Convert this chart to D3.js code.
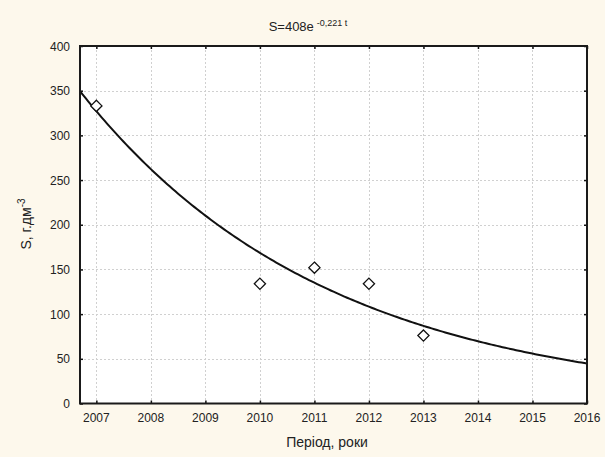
<!DOCTYPE html>
<html>
<head>
<meta charset="utf-8">
<script src="https://cdn.jsdelivr.net/npm/d3@7"></script>
<style>
  html, body { margin: 0; padding: 0; background: #fdf8ec; }
  svg { display: block; font-family: "Liberation Sans", Arial, sans-serif; }
</style>
</head>
<body>
<svg id="chart" width="605" height="457"></svg>
<script>
// Observed values
const years = [2007, 2010, 2011, 2012, 2013];
const sValues = [333, 134, 152, 134, 76];

// Fitted model S = a * exp(b * t), t = year - baseYear
const fitA = 408;
const fitB = -0.221;
const baseYear = 2006;

// Axis ticks
const xTicks = [2007, 2008, 2009, 2010, 2011, 2012, 2013, 2014, 2015, 2016];
const yTicks = [0, 50, 100, 150, 200, 250, 300, 350, 400];

const svg = d3.select("#chart");
const W = 605, H = 457;
const plot = { left: 80, right: 587, top: 46, bottom: 403.5 };

svg.append("rect").attr("width", W).attr("height", H).attr("fill", "#fdf8ec");

const x = d3.scaleLinear().domain([2006.7, 2016]).range([plot.left, plot.right]);
const y = d3.scaleLinear().domain([0, 400]).range([plot.bottom, plot.top]);

// plot background
svg.append("rect")
  .attr("x", plot.left).attr("y", plot.top)
  .attr("width", plot.right - plot.left).attr("height", plot.bottom - plot.top)
  .attr("fill", "#ffffff");

// grid
const grid = svg.append("g").attr("stroke", "#d0d0d0").attr("stroke-width", 1).attr("stroke-dasharray", "2,2");
grid.selectAll("line.v").data(xTicks.filter(d => d < 2016)).join("line")
  .attr("x1", d => Math.round(x(d)) + 0.5).attr("x2", d => Math.round(x(d)) + 0.5)
  .attr("y1", plot.top).attr("y2", plot.bottom);
grid.selectAll("line.h").data(yTicks.filter(d => d > 0 && d < 400)).join("line")
  .attr("y1", d => Math.round(y(d)) + 0.5).attr("y2", d => Math.round(y(d)) + 0.5)
  .attr("x1", plot.left).attr("x2", plot.right);

// fitted curve
const fitYears = d3.range(2006.7, 2016.0001, 0.05);
const line = d3.line().x(d => x(d)).y(d => y(fitA * Math.exp(fitB * (d - baseYear))));
svg.append("path")
  .datum(fitYears)
  .attr("d", line)
  .attr("fill", "none")
  .attr("stroke", "#111")
  .attr("stroke-width", 2);

// observation markers (diamonds)
const diamond = d3.symbol().type(d3.symbolDiamond2 || d3.symbolSquare2).size(80);
svg.append("g").selectAll("path").data(years.map((yr, i) => [yr, sValues[i]])).join("path")
  .attr("transform", d => `translate(${x(d[0])},${y(d[1])})` + (d3.symbolDiamond2 ? "" : " rotate(45)"))
  .attr("d", diamond)
  .attr("fill", "#ffffff")
  .attr("stroke", "#111")
  .attr("stroke-width", 1.3);

// axes: inward ticks on all four sides
const axBottom = d3.axisBottom(x).tickValues(xTicks).tickSize(-3).tickFormat("");
const axTop = d3.axisTop(x).tickValues(xTicks).tickSize(-3).tickFormat("");
const axLeft = d3.axisLeft(y).tickValues(yTicks).tickSize(-3).tickFormat("");
const axRight = d3.axisRight(y).tickValues(yTicks).tickSize(-3).tickFormat("");

function styleAxis(g) {
  g.select(".domain").remove();
  g.selectAll(".tick line").attr("stroke", "#111").attr("stroke-width", 1.5);
}
svg.append("g").attr("transform", `translate(0,${plot.bottom})`).call(axBottom).call(styleAxis);
svg.append("g").attr("transform", `translate(0,${plot.top})`).call(axTop).call(styleAxis);
svg.append("g").attr("transform", `translate(${plot.left},0)`).call(axLeft).call(styleAxis);
svg.append("g").attr("transform", `translate(${plot.right},0)`).call(axRight).call(styleAxis);

// frame
svg.append("rect")
  .attr("x", plot.left).attr("y", plot.top)
  .attr("width", plot.right - plot.left).attr("height", plot.bottom - plot.top)
  .attr("fill", "none").attr("stroke", "#1a1a1a").attr("stroke-width", 2);

// tick labels
svg.append("g").selectAll("text").data(xTicks).join("text")
  .attr("x", d => x(d)).attr("y", 422)
  .attr("text-anchor", "middle")
  .attr("font-size", 12).attr("fill", "#222")
  .text(d => d);
svg.append("g").selectAll("text").data(yTicks).join("text")
  .attr("x", 70).attr("y", d => y(d) + 4.5)
  .attr("text-anchor", "end")
  .attr("font-size", 12).attr("fill", "#222")
  .text(d => d);

// title
const title = svg.append("text")
  .attr("x", 308).attr("y", 31)
  .attr("text-anchor", "middle")
  .attr("font-size", 13).attr("fill", "#222");
title.append("tspan").text("S=408e");
title.append("tspan").attr("font-size", 9).attr("dy", -5).attr("dx", 3).text("-0,221 t");

// axis titles
svg.append("text")
  .attr("x", 327).attr("y", 447)
  .attr("text-anchor", "middle")
  .attr("font-size", 14).attr("fill", "#222")
  .text("Період, роки");

const yl = svg.append("text")
  .attr("transform", "translate(31,224) rotate(-90)")
  .attr("text-anchor", "middle")
  .attr("font-size", 14).attr("fill", "#222");
yl.append("tspan").text("S, г.дм");
yl.append("tspan").attr("font-size", 10).attr("dy", -6).text("-3");
</script>
</body>
</html>
